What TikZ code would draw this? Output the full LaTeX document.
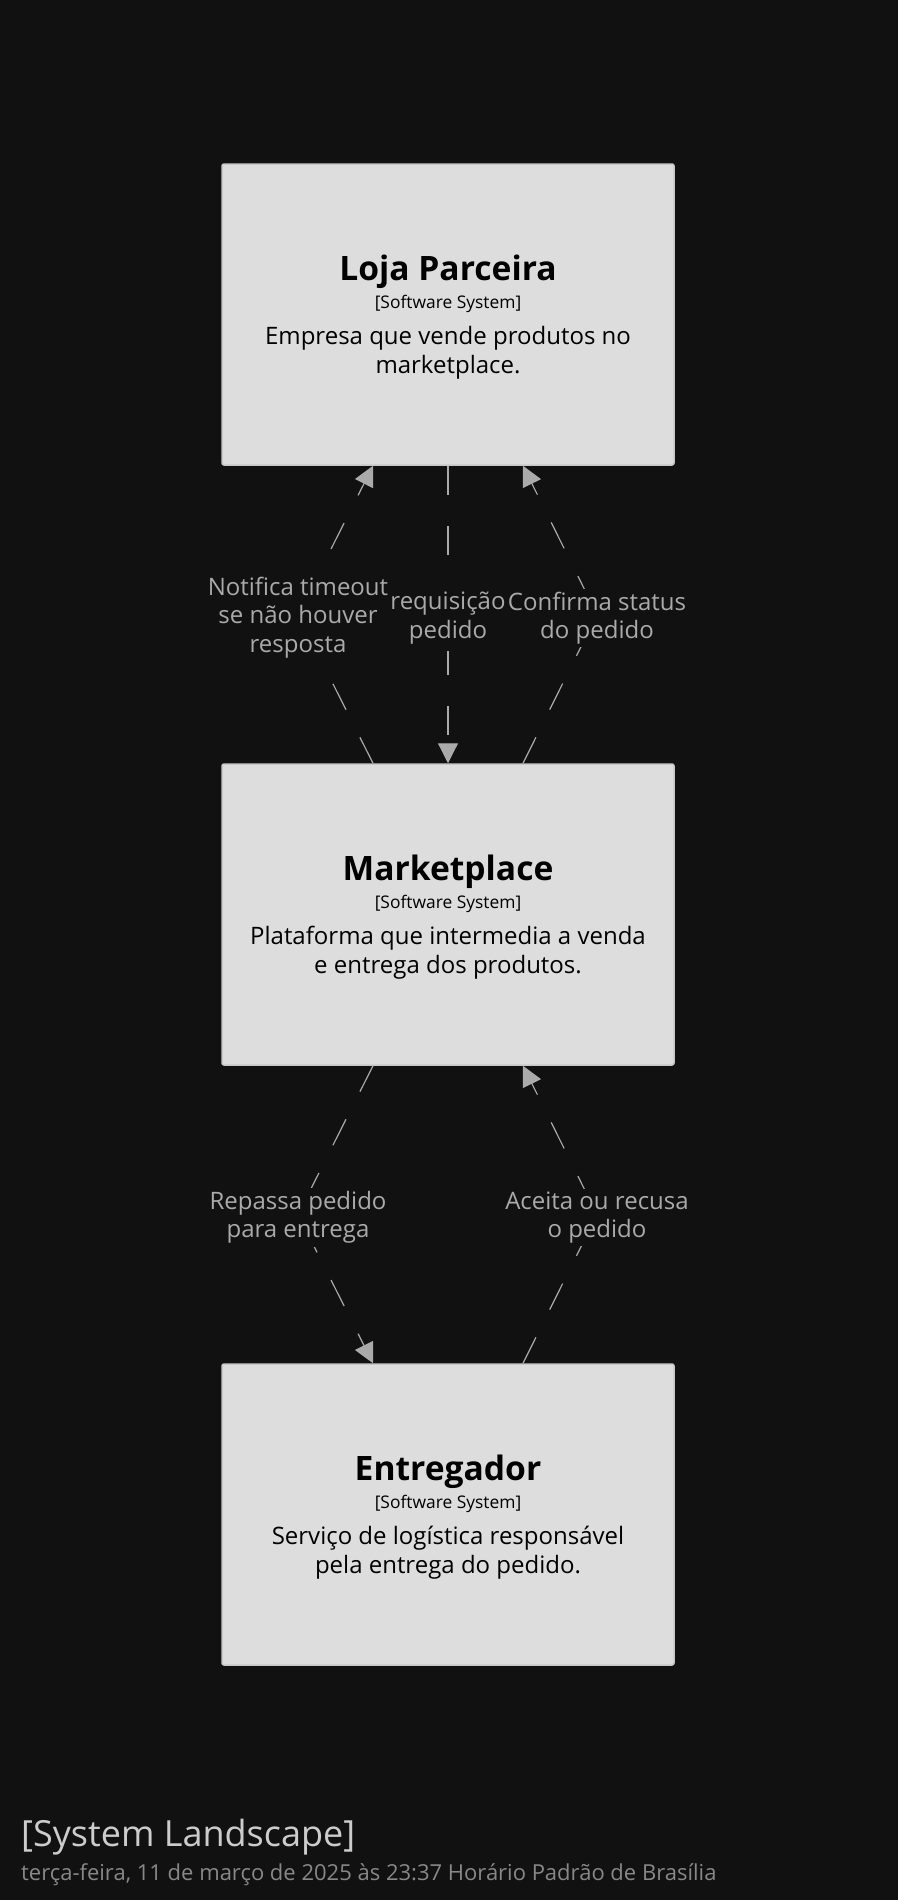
\documentclass[tikz,border=0pt]{standalone}
\usepackage{fontspec}
\setmainfont{Open Sans}
\usetikzlibrary{arrows.meta}
\definecolor{bg}{HTML}{111111}
\definecolor{boxfill}{HTML}{DDDDDD}
\definecolor{boxline}{HTML}{C8C8C8}
\definecolor{conn}{HTML}{AAAAAA}
\definecolor{titlec}{HTML}{CCCCCC}
\definecolor{datec}{HTML}{888888}
\begin{document}
\begin{tikzpicture}[x=1pt,y=-1pt,
 sysbox/.style={draw=boxline, line width=1.5pt, fill=boxfill, rounded corners=2pt, minimum width=452pt, minimum height=301pt, inner sep=0pt},
 sysname/.style={anchor=base, inner sep=0pt, text=black, font=\fontsize{33.6}{40}\selectfont\bfseries},
 systype/.style={anchor=base, inner sep=0pt, text=black, font=\fontsize{17.4}{21}\selectfont},
 sysdesc/.style={anchor=base, inner sep=0pt, text=black, font=\fontsize{24}{28.5}\selectfont, align=center},
 rel/.style={draw=conn, line width=1.2pt, dash pattern=on 29pt off 31pt, -{Triangle[length=20pt,width=20pt]}},
 rellabel/.style={fill=bg, text=conn, inner xsep=0pt, inner ysep=3pt, font=\fontsize{24}{28.4}\selectfont, align=center},
 foot/.style={anchor=base west, inner sep=0pt}
]
\useasboundingbox (0,0) rectangle (898,1900);
\fill[bg] (0,0) rectangle (898,1900);

% systems
\node[sysbox] (loja) at (448,314.5) {};
\node[sysname] (lojaName) at ([yshift=34.5pt]loja.center) {Loja Parceira};
\node[systype] (lojaType) at ([yshift=6.5pt]loja.center) {[Software System]};
\node[sysdesc] (lojaDesc) at ([yshift=-58.5pt]loja.center) {Empresa que vende produtos no\\marketplace.};

\node[sysbox] (mkt) at (448,914.5) {};
\node[sysname] (mktName) at ([yshift=34.5pt]mkt.center) {Marketplace};
\node[systype] (mktType) at ([yshift=6.5pt]mkt.center) {[Software System]};
\node[sysdesc] (mktDesc) at ([yshift=-58.5pt]mkt.center) {Plataforma que intermedia a venda\\e entrega dos produtos.};

\node[sysbox] (ent) at (448,1514.5) {};
\node[sysname] (entName) at ([yshift=34.5pt]ent.center) {Entregador};
\node[systype] (entType) at ([yshift=6.5pt]ent.center) {[Software System]};
\node[sysdesc] (entDesc) at ([yshift=-58.5pt]ent.center) {Serviço de logística responsável\\pela entrega do pedido.};

% bend points
\coordinate (v1) at (298,614.5);
\coordinate (v2) at (448,614.5);
\coordinate (v3) at (597,614.5);
\coordinate (v4) at (298,1214.5);
\coordinate (v5) at (597,1214.5);

% relationships
\draw[rel] ([xshift=-75pt]mkt.north) -- (v1) -- ([xshift=-75pt]loja.south);
\draw[rel] (loja.south) -- (mkt.north);
\draw[rel] ([xshift=75pt]mkt.north) -- (v3) -- ([xshift=75pt]loja.south);
\draw[rel] ([xshift=-75pt]mkt.south) -- (v4) -- ([xshift=-75pt]ent.north);
\draw[rel] ([xshift=75pt]ent.north) -- (v5) -- ([xshift=75pt]mkt.south);

% labels
\node[rellabel] (l1) at ([yshift=-3pt]v1) {Notifica timeout\\se não houver\\resposta};
\node[rellabel] (l3) at ([yshift=-3.5pt]v3) {Confirma status\\do pedido};
\node[rellabel, inner ysep=7pt] (l2) at ([yshift=-3.5pt]v2) {requisição\\pedido};
\node[rellabel] (l4) at ([yshift=-3pt]v4) {Repassa pedido\\para entrega};
\node[rellabel] (l5) at ([yshift=-3pt]v5) {Aceita ou recusa\\o pedido};

% footer
\node[foot, text=titlec, font=\fontsize{36}{42}\selectfont] (title) at (21,1846.7) {[System Landscape]};
\node[foot, text=datec, font=\fontsize{22}{26}\selectfont] (date) at (21,1880) {terça-feira, 11 de março de 2025 às 23:37 Horário Padrão de Brasília};
\end{tikzpicture}
\end{document}
